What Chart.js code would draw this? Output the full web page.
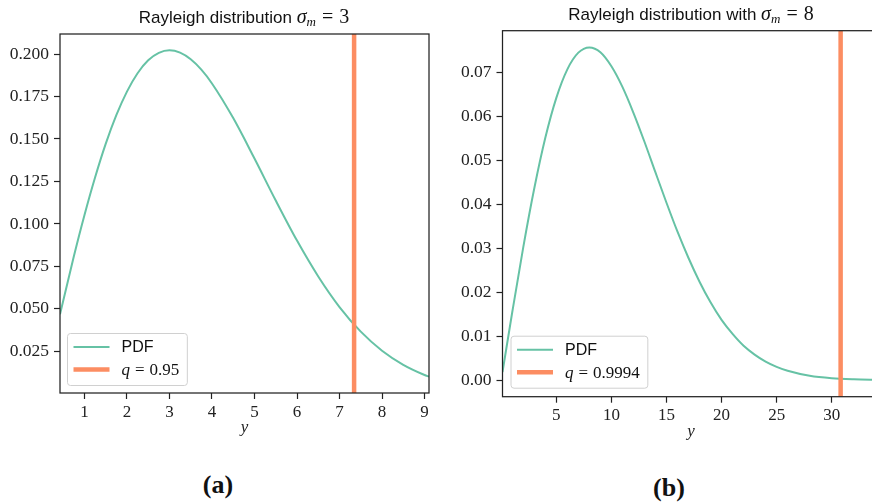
<!DOCTYPE html>
<html>
<head>
<meta charset="utf-8">
<script src="https://cdn.jsdelivr.net/npm/chart.js@4.4.1/dist/chart.umd.min.js"></script>
<style>
  html, body { margin: 0; padding: 0; background: #fff; overflow: hidden; width: 872px; height: 504px; }
  .box { position: absolute; top: 0; }
  .title { position: absolute; font-family: 'Liberation Sans', sans-serif; font-size: 17px; color: #111;
           white-space: nowrap; transform: translate(-50%, -50%); line-height: 20px; }
  .math { font-family: 'Liberation Serif', serif; font-size: 20px; }
  .math sub { font-size: 13px; vertical-align: -3px; line-height: 0; }
  .math .eq { margin: 0 6px; }
  .cap { position: absolute; font-family: 'Liberation Serif', serif; font-weight: bold; font-size: 26px;
         color: #111; transform: translate(-50%, -50%); }
</style>
</head>
<body>
<div class="box" style="left:0px"><canvas id="chartA" width="440" height="460"></canvas></div>
<div class="box" style="left:440px"><canvas id="chartB" width="450" height="460"></canvas></div>

<div class="title" style="left:244px; top:17px">Rayleigh distribution <span class="math"><i>σ</i><sub><i>m</i></sub><span class="eq">=</span>3</span></div>
<div class="title" style="left:691px; top:14px">Rayleigh distribution with <span class="math"><i>σ</i><sub><i>m</i></sub><span class="eq">=</span>8</span></div>
<div class="cap" style="left:218px; top:485px">(a)</div>
<div class="cap" style="left:669px; top:488px">(b)</div>

<script>
// ---- panel (a): sigma_m = 3 ----
const yValsA = [0.4254, 0.75, 1, 1.25, 1.5, 1.75, 2, 2.25, 2.5, 2.75, 3, 3.25, 3.5, 3.75, 4,
                4.5, 5, 5.5, 6, 6.5, 7, 7.5, 8, 8.5, 9, 9.1047];
const pdfA = [0.0468, 0.0808, 0.1051, 0.1273, 0.1471, 0.1640, 0.1779, 0.1887, 0.1963, 0.2007, 0.2022,
              0.2008, 0.1969, 0.1908, 0.1827, 0.1623, 0.1385, 0.1138, 0.0902, 0.0691, 0.0511,
              0.0366, 0.0254, 0.0171, 0.0111, 0.0101];
const quantA = 7.343;
const quantLabelA = 'q = 0.95';
const xLimA = [0.4254, 9.1047];
const yLimA = [0.0005, 0.2118];
const xTicksA = [1, 2, 3, 4, 5, 6, 7, 8, 9];
const yTicksA = [0.025, 0.05, 0.075, 0.1, 0.125, 0.15, 0.175, 0.2];

// ---- panel (b): sigma_m = 8 ----
const yValsB = [0.113, 1, 2, 3, 4, 5, 6, 7, 8, 9, 10, 11, 12, 13, 14, 15, 16, 17, 18, 19, 20,
                21, 22, 23, 24, 25, 26, 28, 30, 32, 34.33];
const pdfB = [0.0018, 0.0155, 0.0303, 0.0437, 0.0552, 0.0643, 0.0708, 0.0746, 0.0758, 0.0747, 0.0715,
              0.0668, 0.0609, 0.0543, 0.0473, 0.0404, 0.0338, 0.0278, 0.0224, 0.0177, 0.0137,
              0.0105, 0.0078, 0.0058, 0.0042, 0.0030, 0.0021, 0.00096, 0.00041, 0.00017, 0.00005];
const quantB = 30.81;
const quantLabelB = 'q = 0.9994';
const xLimB = [0.113, 34.33];
const yLimB = [-0.0038, 0.0796];
const xTicksB = [5, 10, 15, 20, 25, 30];
const yTicksB = [0, 0.01, 0.02, 0.03, 0.04, 0.05, 0.06, 0.07];

const GREEN = '#66c2a5';
const ORANGE = '#fc8d62';
const INK = '#222';

// box around the plot area (matplotlib spines)
const frame = {
  id: 'frame',
  afterDatasetsDraw(chart) {
    const { ctx, chartArea: a } = chart;
    ctx.save();
    ctx.strokeStyle = INK;
    ctx.lineWidth = 1.25;
    ctx.strokeRect(a.left, a.top, a.right - a.left, a.bottom - a.top);
    ctx.restore();
  }
};

// legend label: "q = ..." gets an italic q in serif, others in sans
function drawLabel(ctx, text, x, y, dry) {
  if (text.startsWith('q ')) {
    ctx.font = 'italic 17px "Liberation Serif"';
    const w1 = ctx.measureText('q').width + 5;
    if (!dry) ctx.fillText('q', x, y);
    ctx.font = '17px "Liberation Serif"';
    const eqW = ctx.measureText('=').width + 5;
    if (!dry) ctx.fillText('=', x + w1, y);
    const rest = text.slice(text.indexOf('=') + 1).trim();
    const w2 = ctx.measureText(rest).width;
    if (!dry) ctx.fillText(rest, x + w1 + eqW, y);
    return w1 + eqW + w2;
  }
  ctx.font = '16px "Liberation Sans"';
  if (!dry) ctx.fillText(text, x, y);
  return ctx.measureText(text).width;
}

// legend inside the lower-left corner of the plot area
const innerLegend = {
  id: 'innerLegend',
  afterDraw(chart, args, opts) {
    const { ctx, chartArea: a } = chart;
    const sets = chart.data.datasets;
    ctx.save();
    ctx.textBaseline = 'middle';
    ctx.textAlign = 'left';
    const maxW = Math.max(...sets.map(ds => drawLabel(ctx, ds.label, 0, 0, true)));
    const h = 52;
    const w = 54 + maxW + 8;
    const x0 = a.left + opts.dx;
    const y0 = a.bottom - opts.dy - h;

    ctx.beginPath();
    if (ctx.roundRect) ctx.roundRect(x0, y0, w, h, 3);
    else ctx.rect(x0, y0, w, h);
    ctx.fillStyle = 'rgba(255,255,255,0.8)';
    ctx.fill();
    ctx.strokeStyle = '#d0d0d0';
    ctx.lineWidth = 1;
    ctx.stroke();

    sets.forEach((ds, i) => {
      const ry = y0 + 13.5 + i * 22.6;
      ctx.beginPath();
      ctx.strokeStyle = ds.borderColor;
      ctx.lineWidth = ds.borderWidth;
      ctx.moveTo(x0 + 6, ry);
      ctx.lineTo(x0 + 42, ry);
      ctx.stroke();
      ctx.fillStyle = '#111';
      drawLabel(ctx, ds.label, x0 + 54, ry + 1, false);
    });
    ctx.restore();
  }
};

function makePanel(id, xs, ys, q, qLabel, xLim, yLim, xTicks, yTicks, digits, box) {
  const curve = xs.map((x, i) => ({ x: x, y: ys[i] }));
  const vline = [{ x: q, y: yLim[0] }, { x: q, y: yLim[1] }];

  return new Chart(document.getElementById(id), {
    type: 'line',
    data: {
      datasets: [{
        label: 'PDF',
        data: curve,
        borderColor: GREEN,
        borderWidth: 2,
        pointRadius: 0,
        cubicInterpolationMode: 'monotone',
        order: 2
      }, {
        label: qLabel,
        data: vline,
        borderColor: ORANGE,
        borderWidth: 4.5,
        pointRadius: 0,
        order: 1
      }]
    },
    options: {
      responsive: false,
      animation: false,
      devicePixelRatio: 1,
      layout: { padding: { top: box.top, right: box.right, bottom: 0, left: 0 } },
      plugins: {
        legend: { display: false },
        tooltip: { enabled: false },
        innerLegend: { dx: box.legendDx, dy: box.legendDy }
      },
      scales: {
        x: {
          type: 'linear',
          min: xLim[0],
          max: xLim[1],
          border: { display: false },
          grid: { drawOnChartArea: false, drawTicks: true, tickLength: 6, tickColor: INK, tickWidth: 1.2 },
          ticks: {
            includeBounds: false,
            padding: 3,
            color: INK,
            font: { family: 'Liberation Serif', size: 17 },
            callback: v => String(v)
          },
          afterBuildTicks: s => { s.ticks = xTicks.map(v => ({ value: v })); },
          afterFit: s => { s.height = box.xAxisH; },
          title: {
            display: true,
            text: 'y',
            color: INK,
            font: { family: 'Liberation Serif', style: 'italic', size: 17 },
            padding: { top: 0, bottom: box.xTitlePad }
          }
        },
        y: {
          type: 'linear',
          min: yLim[0],
          max: yLim[1],
          border: { display: false },
          grid: { drawOnChartArea: false, drawTicks: true, tickLength: 6, tickColor: INK, tickWidth: 1.2 },
          ticks: {
            padding: 5,
            color: INK,
            font: { family: 'Liberation Serif', size: 17.5 },
            callback: v => Number(v).toFixed(digits)
          },
          afterBuildTicks: s => { s.ticks = yTicks.map(v => ({ value: v })); },
          afterFit: s => { s.width = box.yAxisW; }
        }
      }
    },
    plugins: [frame, innerLegend]
  });
}

makePanel('chartA', yValsA, pdfA, quantA, quantLabelA, xLimA, yLimA, xTicksA, yTicksA, 3,
  { top: 34, right: 11, yAxisW: 60, xAxisH: 67, xTitlePad: 22, legendDx: 7.5, legendDy: 7.5 });

makePanel('chartB', yValsB, pdfB, quantB, quantLabelB, xLimB, yLimB, xTicksB, yTicksB, 2,
  { top: 30.7, right: 10.6, yAxisW: 62.5, xAxisH: 63.3, xTitlePad: 18, legendDx: 8.5, legendDy: 8.5 });
</script>
</body>
</html>
